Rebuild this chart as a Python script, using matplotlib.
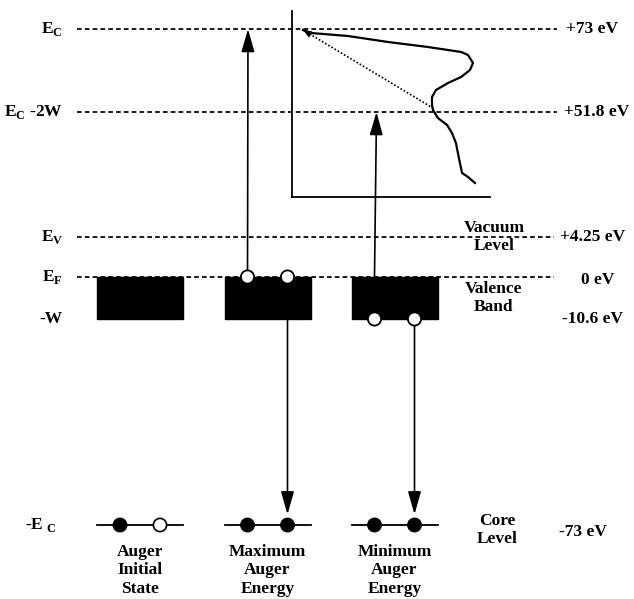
import matplotlib
matplotlib.use("Agg")
import matplotlib.pyplot as plt
from matplotlib.patches import Rectangle, Circle

plt.rcParams['font.family'] = ['Liberation Serif', 'DejaVu Serif']
plt.rcParams['mathtext.fontset'] = 'custom'
plt.rcParams['mathtext.rm'] = 'Liberation Serif'

# ---------------- data ----------------
level_labels = [r'E$_\mathregular{C}$', r'E$_\mathregular{C}$ -2W', r'E$_\mathregular{V}$',
                r'E$_\mathregular{F}$', '-W', r'-E$_\mathregular{\ C}$']
level_energies_eV = [73, 51.8, 4.25, 0, -10.6, -73]
energy_labels = ['+73 eV', '+51.8 eV', '+4.25 eV', '0 eV', '-10.6 eV', '-73 eV']
band_labels = ['Vacuum\nLevel', 'Valence\nBand', 'Core\nLevel']
column_titles = ['Auger\nInitial\nState', 'Maximum\nAuger\nEnergy', 'Minimum\nAuger\nEnergy']
# core level occupancy per column (left, right): True = filled electron
core_filled = [(True, False), (True, True), (True, True)]

# Auger spectrum (intensity, arb. units) vs kinetic energy (eV)
spec_intensity = [5.6, 9.6, 28.3, 48.5, 68.7, 85.4, 88.9, 91.4, 89.9, 85.4, 78.8, 72.7,
                  70.7, 70.7, 71.2, 73.7, 78.3, 80.8, 82.8, 83.8, 84.8, 85.9, 88.9, 92.4]
spec_energy = [72.74, 71.98, 71.21, 69.68, 68.40, 67.13, 66.36, 64.32, 62.53, 60.74, 59.21,
               57.42, 55.63, 53.59, 52.31, 50.27, 48.48, 46.44, 43.88, 41.33, 38.77, 36.22,
               35.20, 33.67]
background_intensity = [5.6, 71.2]
background_energy = [72.74, 52.8]

# ---------------- layout (pixels) ----------------
W, H = 634, 599
level_y = [29, 112, 237, 277, 319, 525]
col_x = [140, 267.5, 394.5]
col_half = 43
e_off = 20
r_e = 6.6

fig = plt.figure(figsize=(W / 100, H / 100), dpi=100)
ax = fig.add_axes([0, 0, 1, 1])
ax.set_xlim(0, W)
ax.set_ylim(H, 0)
ax.axis('off')

FS = 12.5
dash = dict(color='black', lw=1.25, dashes=(2.7, 1.8))

# dashed energy levels (first four)
line_end = [557, 557, 554, 554]
for y, xe in zip(level_y[:4], line_end):
    ax.plot([77, xe], [y, y], zorder=1, **dash)

# left labels
left_x = [63, 63, 63, 63, 63, 56]
for lab, y, x in zip(level_labels, level_y, left_x):
    ax.text(x, y, lab, ha='right', va='center', fontsize=FS, fontweight='bold')

# right energy labels
right_x = [592, 597, 593, 598, 593, 583]
for lab, y, x in zip(energy_labels, level_y, right_x):
    yy = y + 3 if lab == '0 eV' else y
    yy = yy + 7 if lab == '-73 eV' else yy
    ax.text(x, yy, lab, ha='center', va='center', fontsize=FS, fontweight='bold')

# band labels
for lab, (x, y) in zip(band_labels, [(494, 237), (494, 298), (497, 530)]):
    ax.text(x, y, lab, ha='center', va='center', fontsize=FS, fontweight='bold',
            linespacing=1.12)

# valence band blocks
yF, yW, yCore = level_y[3], level_y[4], level_y[5]
for cx in col_x:
    ax.add_patch(Rectangle((cx - col_half, yF), 2 * col_half, yW - yF,
                           facecolor='black', edgecolor='black', zorder=2))

# core levels
for cx, occ in zip(col_x, core_filled):
    ax.plot([cx - col_half, cx + col_half], [yCore, yCore], color='black', lw=1.3, zorder=2)
    for dx, filled in zip((-e_off, e_off), occ):
        ax.add_patch(Circle((cx + dx, yCore), r_e, facecolor='black' if filled else 'white',
                            edgecolor='black', lw=1.2, zorder=4))

# column titles
for cx, t in zip(col_x, column_titles):
    ax.text(cx, 544, t, ha='center', va='top', fontsize=FS, fontweight='bold',
            linespacing=1.2)

arrow = dict(arrowstyle='-|>,head_length=0.7,head_width=0.2', color='black', lw=1.2,
             shrinkA=0, shrinkB=0, mutation_scale=20)

# Maximum Auger energy: electron from top of valence band to E_C
c2 = col_x[1]
ax.annotate('', xy=(c2 - e_off + 0.5, level_y[0]), xytext=(c2 - e_off, yF), arrowprops=arrow, zorder=3)
ax.annotate('', xy=(c2 + e_off, yCore - r_e - 4), xytext=(c2 + e_off, yF), arrowprops=arrow, zorder=3)
for dx in (-e_off, e_off):
    ax.add_patch(Circle((c2 + dx, yF), r_e, facecolor='white', edgecolor='black', lw=1.3, zorder=4))

# Minimum Auger energy: electron from bottom of valence band to E_C - 2W
c3 = col_x[2]
ax.annotate('', xy=(c3 - e_off + 2, level_y[1]), xytext=(c3 - e_off, yF), arrowprops=arrow, zorder=3)
ax.annotate('', xy=(c3 + e_off, yCore - r_e - 4), xytext=(c3 + e_off, yW), arrowprops=arrow, zorder=3)
for dx in (-e_off, e_off):
    ax.add_patch(Circle((c3 + dx, yW), r_e, facecolor='white', edgecolor='black', lw=1.3, zorder=4))

# ---------------- spectrum inset ----------------
ix0, ix1, iy0, iy1 = 292, 490, 11, 197
ins = fig.add_axes([ix0 / W, 1 - iy1 / H, (ix1 - ix0) / W, (iy1 - iy0) / H])
ins.patch.set_alpha(0)
px_per_eV = (level_y[1] - level_y[0]) / (level_energies_eV[0] - level_energies_eV[1])
e_top = level_energies_eV[0] + (level_y[0] - iy0) / px_per_eV
e_bot = level_energies_eV[0] - (iy1 - level_y[0]) / px_per_eV
ins.set_ylim(e_bot, e_top)
ins.set_xlim(0, 100)
for s in ('top', 'right'):
    ins.spines[s].set_visible(False)
for s in ('left', 'bottom'):
    ins.spines[s].set_linewidth(1.3)
ins.set_xticks([])
ins.set_yticks([])
ins.plot(spec_intensity, spec_energy, color='black', lw=1.6, solid_joinstyle='round')
ins.plot(background_intensity, background_energy, color='black', lw=1.2, ls=(0, (1, 1.2)))
ins.annotate('', xy=(background_intensity[0], background_energy[0]),
             xytext=(background_intensity[0] + 4, background_energy[0] - 1.2),
             arrowprops=dict(arrowstyle='-|>,head_length=0.5,head_width=0.2', color='black',
                             lw=0.8, shrinkA=0, shrinkB=0, mutation_scale=10))

fig.savefig('out.png', dpi=100)
